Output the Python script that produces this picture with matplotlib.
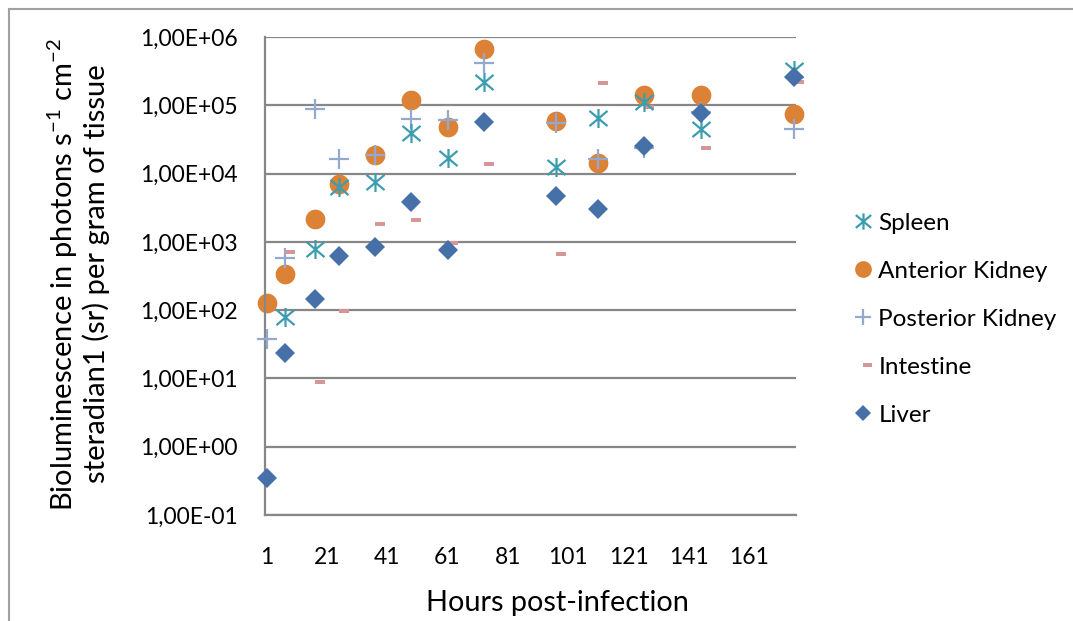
import numpy as np
import matplotlib
matplotlib.use("Agg")
import matplotlib.pyplot as plt
from matplotlib.path import Path
from matplotlib.lines import Line2D

plt.rcParams['font.family'] = ['Lato', 'DejaVu Sans']
plt.rcParams['mathtext.fontset'] = 'custom'
plt.rcParams['mathtext.rm'] = 'Lato'

nan = np.nan
hours = [1, 7, 17, 25, 37, 49, 61, 73, 97, 111, 126, 145, 176]
spleen = [nan, 80, 778, 6400, 7450, 39700, 16700, 221000, 12600, 65800, 110000, 44500, 329000]
anterior_kidney = [126, 342, 2160, 6970, 18700, 119500, 48100, 674000, 58900, 14100, 143000, 140000, 75300]
posterior_kidney = [37.8, 575, 88300, 16200, 18700, 63600, 61500, 412000, 54500, 16200, 23700, 80000, 44500]
intestine = [nan, 703, 8.96, 98, 1827, 2090, 973, 13800, 664, 212000, 95300, 23500, 221000]
liver = [0.345, 23.8, 146, 615, 850, 3880, 760, 56300, 4700, 3030, 25400, 76400, 257000]

series_names = ['Spleen', 'Anterior Kidney', 'Posterior Kidney', 'Intestine', 'Liver']
xtick_labels = ['1', '21', '41', '61', '81', '101', '121', '141', '161']
ytick_labels = ['1,00E-01', '1,00E+00', '1,00E+01', '1,00E+02', '1,00E+03',
                '1,00E+04', '1,00E+05', '1,00E+06']

W, H = 1073, 621
fig = plt.figure(figsize=(W / 100, H / 100), dpi=100)
ax = fig.add_axes([265 / W, 1 - 515 / H, (796 - 265) / W, (515 - 37) / H])

# custom markers
star_path = Path([(0, -1), (0, 1), (-0.95, -0.8), (0.95, 0.8), (-0.95, 0.8), (0.95, -0.8)],
                 [Path.MOVETO, Path.LINETO, Path.MOVETO, Path.LINETO, Path.MOVETO, Path.LINETO])
dash_path = Path([(0, -0.24), (1, -0.24), (1, 0.24), (0, 0.24), (0, -0.24)],
                 [Path.MOVETO, Path.LINETO, Path.LINETO, Path.LINETO, Path.CLOSEPOLY])

c_spleen = '#3B9DAF'
c_ant = '#DC8237'
c_post = '#93A9D0'
c_int = '#D69596'
c_liver = '#4570A8'

h_post = ax.plot(hours, posterior_kidney, linestyle='none', marker='+', markersize=14,
                 markeredgewidth=1.6, color=c_post, zorder=3, clip_on=False)[0]
h_int = ax.plot(hours, intestine, linestyle='none', marker=dash_path, markersize=14.5,
                markeredgewidth=0, color=c_int, zorder=3, clip_on=False)[0]
h_spleen = ax.plot(hours, spleen, linestyle='none', marker=star_path, markersize=13.7,
                   markeredgewidth=1.6, color=c_spleen, markerfacecolor='none', zorder=3,
                   clip_on=False)[0]
h_ant = ax.plot(hours, anterior_kidney, linestyle='none', marker='o', markersize=14.2,
                markeredgewidth=0, color=c_ant, zorder=2.5, clip_on=False)[0]
h_liver = ax.plot(hours, liver, linestyle='none', marker='D', markersize=10,
                  markeredgewidth=0, color=c_liver, zorder=4, clip_on=False)[0]

ax.set_yscale('log')
ax.set_ylim(0.1, 1e6)
ax.set_xlim(0.5, 176.5)
ax.set_yticks([10.0 ** k for k in range(-1, 7)])
ax.set_yticklabels(ytick_labels)
ax.yaxis.set_minor_locator(matplotlib.ticker.NullLocator())
ax.set_xticks([int(t) for t in xtick_labels])
ax.set_xticklabels(xtick_labels)
ax.tick_params(axis='both', length=0, labelsize=16.5, colors='black')
ax.tick_params(axis='x', pad=23)
ax.tick_params(axis='y', pad=19.5)

ax.grid(axis='y', color='#878787', linewidth=1.6)
ax.set_axisbelow(True)
for s in ['top', 'right']:
    ax.spines[s].set_visible(False)
for s in ['left', 'bottom']:
    ax.spines[s].set_color('#878787')
    ax.spines[s].set_linewidth(1.6)

fig.text(557 / W, 1 - 603 / H, 'Hours post-infection', ha='center', va='center', fontsize=20.8)
fig.text(63 / W, 1 - 274 / H,
         r'Bioluminescence in photons s$^{\mathregular{-1}}$ cm$^{\mathregular{-2}}$',
         ha='center', va='center', rotation=90, fontsize=21)
fig.text(96 / W, 1 - 274 / H, 'steradian1 (sr) per gram of tissue',
         ha='center', va='center', rotation=90, fontsize=21)

leg = fig.legend([h_spleen, h_ant, h_post, h_int, h_liver], series_names,
                 loc='upper left', bbox_to_anchor=(831 / W, 1 - 191 / H),
                 frameon=False, fontsize=17.5, labelspacing=1.11, handlelength=0.8,
                 handletextpad=0.25, markerscale=0.85)

# chart border
fig.add_artist(Line2D([9 / W, 1], [1 - 9 / H, 1 - 9 / H], color='#A0A0A0', linewidth=1.5,
                      transform=fig.transFigure))
fig.add_artist(Line2D([9 / W, 9 / W], [0, 1 - 9 / H], color='#A0A0A0', linewidth=1.5,
                      transform=fig.transFigure))

fig.savefig('out.png', dpi=100)
